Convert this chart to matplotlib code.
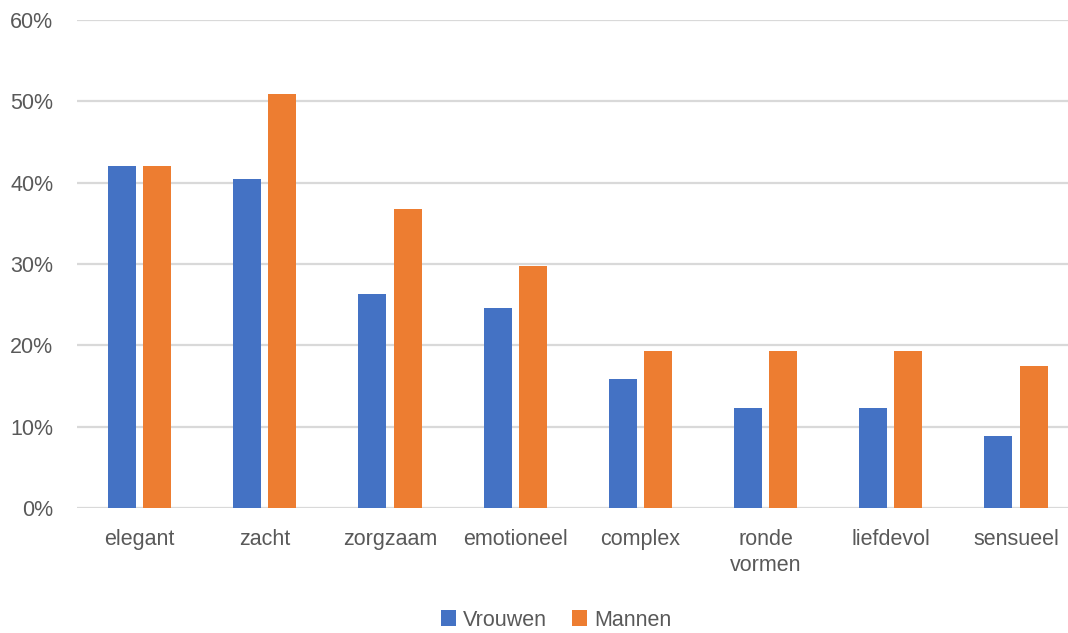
import matplotlib.pyplot as plt
import numpy as np
from matplotlib.ticker import FuncFormatter

# Data (percentages)
categories = ['elegant', 'zacht', 'zorgzaam', 'emotioneel', 'complex',
              'ronde\nvormen', 'liefdevol', 'sensueel']
vrouwen = [42.1, 40.4, 26.3, 24.6, 15.8, 12.3, 12.3, 8.8]
mannen = [42.1, 50.9, 36.8, 29.8, 19.3, 19.3, 19.3, 17.5]
yticks = [0, 10, 20, 30, 40, 50, 60]

blue = '#4472C4'
orange = '#ED7D31'
txt = '#595959'

plt.rcParams['font.family'] = ['Liberation Sans', 'DejaVu Sans']

fig = plt.figure(figsize=(10.68, 6.33), dpi=100)
ax = fig.add_axes([77 / 1068, 1 - 508 / 633, 1001.6 / 1068, 488 / 633])

x = np.arange(len(categories))
w = 0.224
ax.bar(x - 0.14, vrouwen, w, color=blue, label='Vrouwen', zorder=3)
ax.bar(x + 0.14, mannen, w, color=orange, label='Mannen', zorder=3)

ax.set_xlim(-0.5, len(categories) - 0.5)
ax.set_ylim(0, 60)
ax.set_yticks(yticks)
ax.yaxis.set_major_formatter(FuncFormatter(lambda v, p: '%d%%' % v))
ax.set_xticks(x)
ax.set_xticklabels(categories, linespacing=1.35)
ax.grid(axis='y', color='#d9d9d9', linewidth=1.6, zorder=0)
for s in ax.spines.values():
    s.set_visible(False)
ax.tick_params(axis='both', length=0, labelsize=15.5, labelcolor=txt)
ax.tick_params(axis='y', pad=17)
ax.tick_params(axis='x', pad=15)
for lab in ax.get_xticklabels():
    lab.set_verticalalignment('top')

fig.legend(loc='center', bbox_to_anchor=(556 / 1068, 1 - 620 / 633), ncol=2,
           frameon=False, fontsize=15.5, labelcolor=txt, handlelength=0.7,
           handleheight=0.7, handletextpad=0.3, columnspacing=1.2)

fig.savefig('out.png', dpi=100)
